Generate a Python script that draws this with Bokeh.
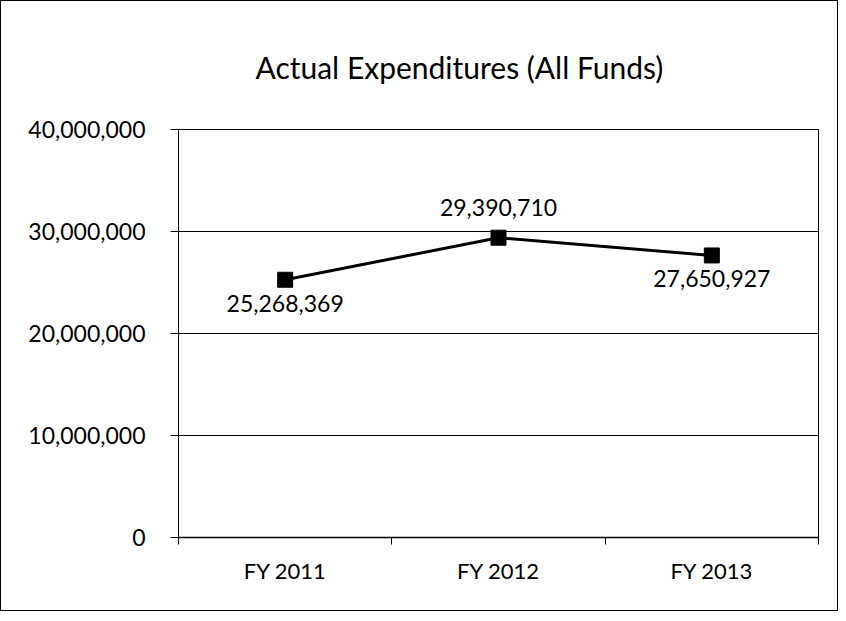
from bokeh.plotting import figure
from bokeh.models import ColumnDataSource, FixedTicker, NumeralTickFormatter, Range1d, CDSView, IndexFilter
from bokeh.core.properties import value
from bokeh.embed import file_html
from bokeh.resources import INLINE

# ---- data ----
categories = ["FY 2011", "FY 2012", "FY 2013"]
expenditures = [25268369, 29390710, 27650927]
y_ticks = [0, 10000000, 20000000, 30000000, 40000000]
title_text = "Actual Expenditures (All Funds)"

FONT = "Lato"
LABEL_ABOVE = {"FY 2012"}

xs = [i + 0.5 for i in range(len(categories))]
labels = [f"{v:,}" for v in expenditures]
src = ColumnDataSource(dict(x=xs, y=expenditures, label=labels, cat=categories))

p = figure(width=838, height=611, output_backend="svg", toolbar_location=None,
           x_range=Range1d(0, len(categories)), y_range=Range1d(0, y_ticks[-1]),
           min_border_left=177, min_border_right=21, min_border_top=128, min_border_bottom=75)
p.styles = {"border": "1px solid black"}
p.background_fill_color = "white"
p.border_fill_color = "white"
p.outline_line_color = "black"
p.outline_line_width = 1

# title
p.title.text = title_text
p.title.text_font = FONT
p.title.text_font_size = "30px"
p.title.text_font_style = "normal"
p.title.text_color = "black"
p.title.align = "left"
p.title.offset = 77
p.title.standoff = 89

# y axis
yt = FixedTicker(ticks=y_ticks)
p.yaxis.ticker = yt
p.yaxis.formatter = NumeralTickFormatter(format="0,0")
p.yaxis.major_tick_in = 0
p.yaxis.major_tick_out = 8
p.yaxis.minor_tick_line_color = None
p.yaxis.axis_line_color = "black"
p.yaxis.major_tick_line_color = "black"
p.yaxis.major_label_standoff = 25
p.yaxis.major_label_text_font = FONT
p.yaxis.major_label_text_font_size = "23px"
p.yaxis.major_label_text_color = "black"

p.ygrid.ticker = yt
p.ygrid.grid_line_color = "black"
p.ygrid.grid_line_width = 1
p.xgrid.grid_line_color = None

# x axis
p.xaxis.ticker = FixedTicker(ticks=xs, minor_ticks=list(range(len(categories) + 1)))
p.xaxis.major_label_overrides = {x: c for x, c in zip(xs, categories)}
p.xaxis.major_tick_in = 0
p.xaxis.major_tick_out = 0
p.xaxis.minor_tick_in = 0
p.xaxis.minor_tick_out = 7
p.xaxis.minor_tick_line_color = "black"
p.xaxis.axis_line_color = "black"
p.xaxis.axis_line_width = 1.5
p.xaxis.major_label_standoff = 12
p.xaxis.major_label_text_font = FONT
p.xaxis.major_label_text_font_size = "22px"
p.xaxis.major_label_text_color = "black"

# series
p.line("x", "y", source=src, line_color="black", line_width=3)
p.scatter("x", "y", source=src, marker="square", size=15, fill_color="black", line_color="black")

above_idx = [i for i, c in enumerate(categories) if c in LABEL_ABOVE]
below_idx = [i for i, c in enumerate(categories) if c not in LABEL_ABOVE]
p.text("x", "y", text="label", source=src, view=CDSView(filter=IndexFilter(below_idx)),
       text_align="center", text_baseline="top", y_offset=15,
       text_font=value(FONT), text_font_size="23px", text_color="black")
p.text("x", "y", text="label", source=src, view=CDSView(filter=IndexFilter(above_idx)),
       text_align="center", text_baseline="alphabetic", y_offset=-30,
       text_font=value(FONT), text_font_size="23px", text_color="black")

open("out.html", "w").write(file_html(p, INLINE))
